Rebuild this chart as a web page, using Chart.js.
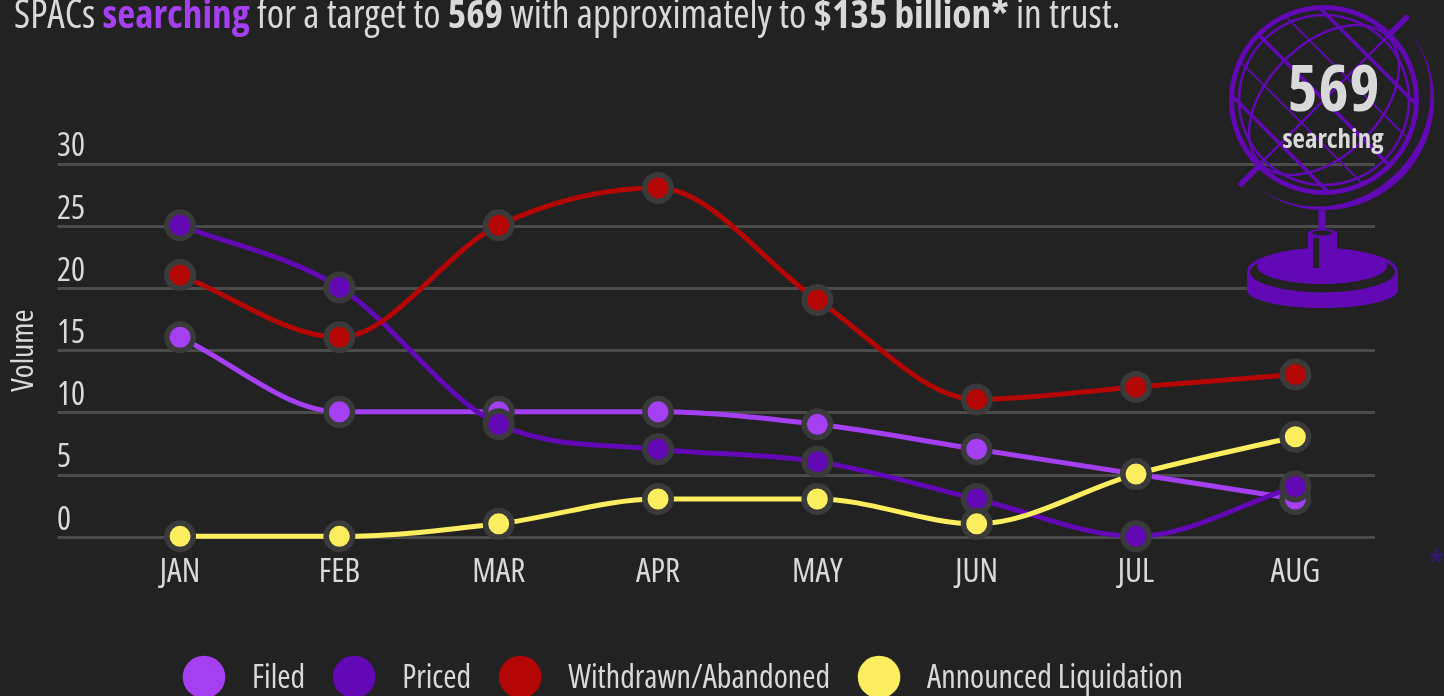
<!DOCTYPE html>
<html><head><meta charset="utf-8">
<script src="https://cdn.jsdelivr.net/npm/chart.js@4"></script>
<style>
html,body{margin:0;padding:0;background:#222;overflow:hidden;width:1444px;height:696px}
#wrap{position:relative;width:1444px;height:696px;overflow:hidden;font-family:"Open Sans",sans-serif;font-stretch:condensed}
canvas{position:absolute;left:0;top:0}
#title{position:absolute;left:14px;top:-8px;font-size:39.3px;line-height:42px;color:#d9d9d9;white-space:nowrap}
#title b{font-weight:700}
#title .p{color:#a53ff2}
#globe{position:absolute;left:1200px;top:0;font-stretch:condensed}
#star{position:absolute;left:1429px;top:547px;font-size:34px;font-weight:700;color:#2f1b66;line-height:30px}
</style></head><body>
<div id="wrap">
<canvas id="c" width="1444" height="696"></canvas>
<svg id="globe" width="244" height="320" viewBox="1200 0 244 320" fill="none" stroke="#6209b5" stroke-linecap="round">
  <circle cx="1324" cy="100" r="92.5" stroke-width="5"/>
  <circle cx="1324" cy="100" r="85" stroke-width="2.5"/>
  <g transform="rotate(45 1324 100)" stroke-linecap="butt">
    <ellipse cx="1324" cy="100" rx="56" ry="90" stroke-width="2.5"/>
    <line x1="1324" y1="10" x2="1324" y2="190" stroke-width="2.5"/>
    <line x1="1256" y1="38" x2="1392" y2="38" stroke-width="3.5"/>
    <line x1="1238" y1="68" x2="1410" y2="68" stroke-width="1.8"/>
    <line x1="1232" y1="100" x2="1416" y2="100" stroke-width="3.5"/>
    <line x1="1238" y1="132" x2="1410" y2="132" stroke-width="1.8"/>
    <line x1="1256" y1="162" x2="1392" y2="162" stroke-width="3.5"/>
  </g>
  <line x1="1406.5" y1="17.5" x2="1388" y2="36" stroke-width="5.5"/>
  <line x1="1241" y1="184" x2="1259" y2="166" stroke-width="5.5"/>
  <path d="M1401.8 22.2 A110 110 0 0 1 1246.2 177.8 A110 103 -45 0 0 1401.8 22.2 Z" fill="#6209b5" stroke="none"/>
  <line x1="1322" y1="210" x2="1322" y2="234" stroke-width="7" stroke-linecap="butt"/>
  <path d="M1247 272 L1247 290 A75.5 18 0 0 0 1398 290 L1398 272 Z" fill="#6209b5" stroke="none"/>
  <ellipse cx="1322.5" cy="272" rx="74" ry="22" fill="#222" stroke="#6209b5" stroke-width="3"/>
  <ellipse cx="1322" cy="266" rx="65" ry="18" fill="#6209b5" stroke="none"/>
  <rect x="1308" y="233" width="29" height="24" fill="#6209b5" stroke="none"/>
  <ellipse cx="1322.5" cy="233" rx="14" ry="3.5" fill="#6209b5" stroke="#6209b5"/>
  <ellipse cx="1322" cy="233" rx="10" ry="2.5" fill="#222" stroke="none"/>
  <rect x="1313" y="238" width="6" height="30" fill="#222" stroke="none"/>
  <text x="1334" y="110.5" text-anchor="middle" font-size="64" font-weight="700" fill="#d9d9d9" stroke="none" letter-spacing="1" style="font-stretch:semi-condensed">569</text>
  <text x="1333" y="148" text-anchor="middle" font-size="27" font-weight="700" fill="#d9d9d9" stroke="none">searching</text>
</svg>
<div id="title">SPACs <b class="p">searching</b> for a target to <b>569</b> with approximately to <b>$135 billion*</b> in trust.</div>
<div id="star">*</div>
</div>
<script>
const months = ['JAN','FEB','MAR','APR','MAY','JUN','JUL','AUG'];
const filed = [16,10,10,10,9,7,5,3];
const priced = [25,20,9,7,6,3,0,4];
const withdrawn = [21,16,25,28,19,11,12,13];
const liquidation = [0,0,1,3,3,1,5,8];
const names = ['Filed','Priced','Withdrawn/Abandoned','Announced Liquidation'];
const colors = ['#a53ff2','#6209b5','#b50606','#fcee5f'];
const values = [filed,priced,withdrawn,liquidation];
const FONT = '"Open Sans",sans-serif';
const W = 'condensed';
const dot = colors.map(col=>{
  const k=document.createElement('canvas');k.width=44;k.height=48;
  const x=k.getContext('2d');x.fillStyle=col;x.beginPath();x.arc(22,22,21.3,0,Math.PI*2);x.fill();return k;
});
const LEG_P = 17;
new Chart(document.getElementById('c'),{
  type:'line',
  data:{labels:months,datasets:values.map((v,i)=>({
    label:names[i],data:v,order:4-i,
    borderColor:colors[i],backgroundColor:colors[i],borderWidth:5,
    cubicInterpolationMode:'monotone',
    pointRadius:13.25,pointBorderWidth:5.5,pointBorderColor:'#3a3a3a',pointBackgroundColor:colors[i],
    pointHoverRadius:13.25,clip:false
  }))},
  options:{
    responsive:false,animation:false,
    layout:{padding:{left:57,right:69,top:164,bottom:0}},
    plugins:{
      tooltip:{enabled:false},
      legend:{position:'bottom',align:'start',labels:{
        color:'#d9d9d9',font:{family:FONT,size:32,weight:W},
        usePointStyle:true,pointStyleWidth:64,padding:LEG_P,
        generateLabels(chart){
          return Chart.defaults.plugins.legend.labels.generateLabels(chart).map(l=>{l.pointStyle=dot[l.datasetIndex];return l;});
        },
        sort:(a,b)=>a.datasetIndex-b.datasetIndex
      }}
    },
    scales:{
      x:{
        offset:true,
        grid:{display:false},border:{display:false},
        ticks:{color:'#d9d9d9',font:{family:FONT,size:33,weight:W},padding:7,maxRotation:0},
        afterFit(s){s.height=166.7-(2*LEG_P+33);}
      },
      y:{
        min:0,max:30,
        border:{display:false},
        grid:{color:'#4b4b4b',lineWidth:3,tickLength:43,tickColor:'#4b4b4b'},
        ticks:{stepSize:5,color:'#d9d9d9',font:{family:FONT,size:33,weight:W},crossAlign:'far',labelOffset:-17,padding:0},
        title:{display:true,text:'Volume',color:'#d9d9d9',font:{family:FONT,size:31.5,weight:W},padding:{top:-52,bottom:0}},
        afterFit(s){s.width=43.4;}
      }
    }
  },
  plugins:[{id:'legendPlace',
    afterLayout(chart){
      const l=chart.legend; l.left=172-LEG_P; l.top=679-LEG_P-16;
    },
    beforeDatasetsDraw(chart){chart.ctx.save();chart.ctx.translate(0,-1);},
    afterDatasetsDraw(chart){chart.ctx.restore();}
  }]
});
</script>
</body></html>
